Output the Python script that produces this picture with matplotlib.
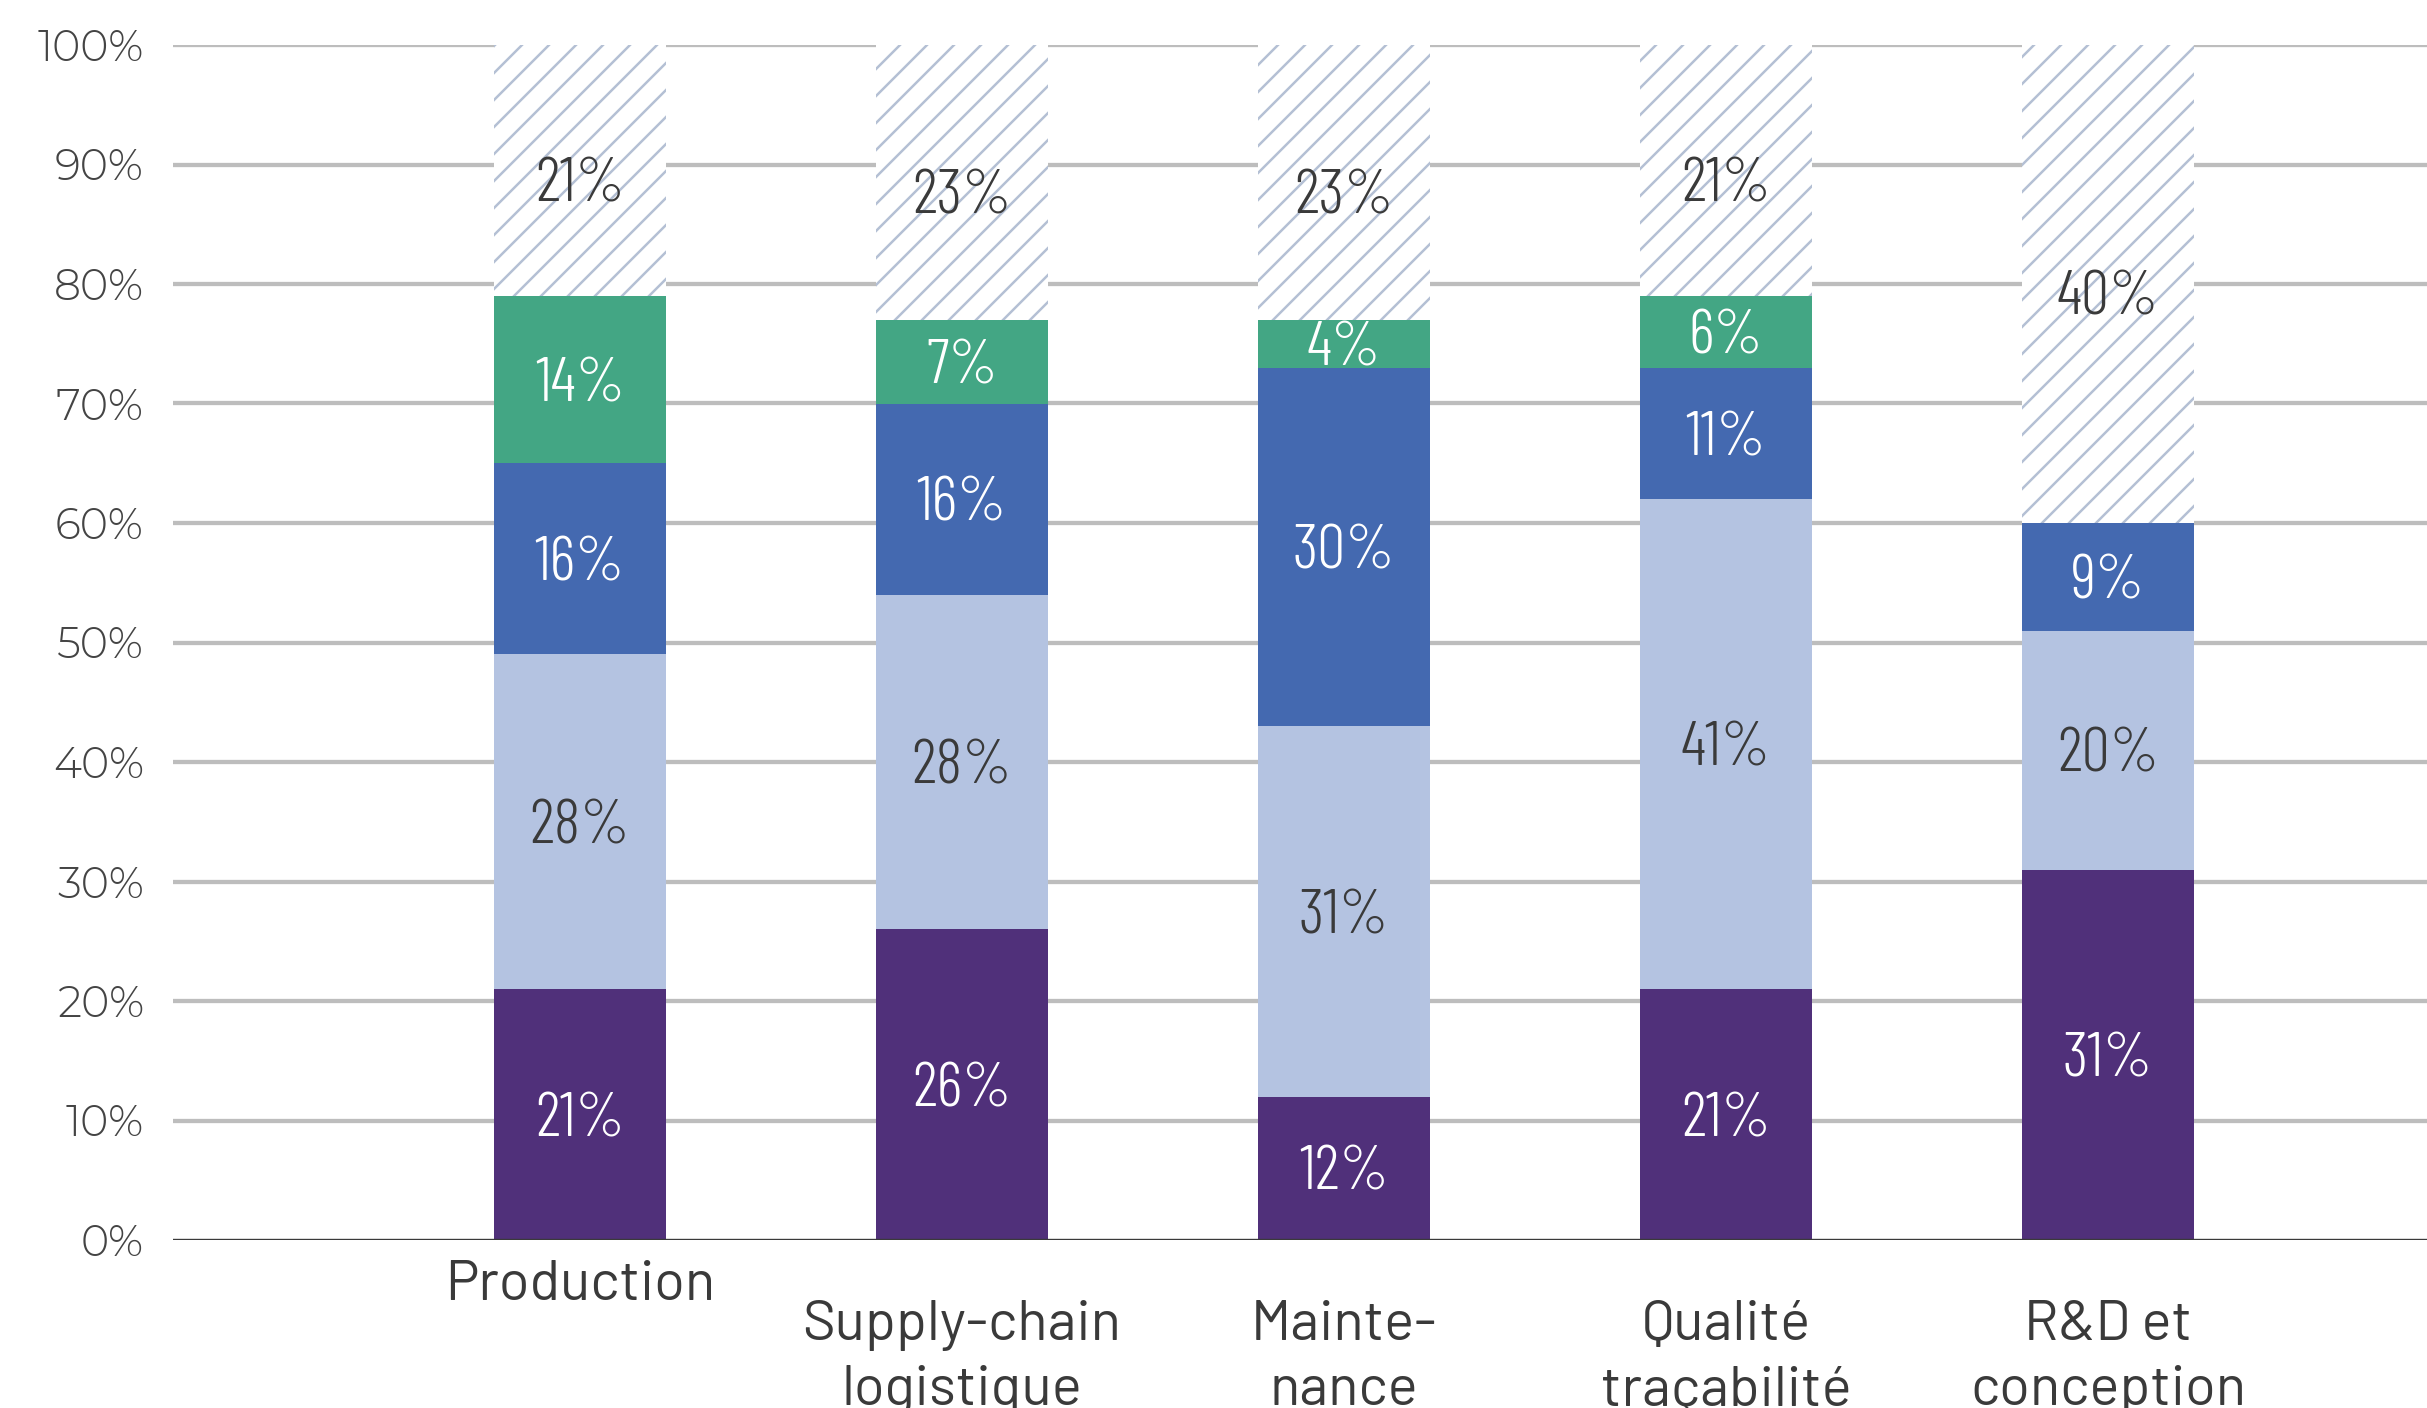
import matplotlib.pyplot as plt
import numpy as np

categories = ['Production', 'Supply-chain\nlogistique', 'Mainte-\nnance',
              'Qualité\ntraçabilité', 'R&D et\nconception']
purple = [21, 26, 12, 21, 31]
light = [28, 28, 31, 41, 20]
blue = [16, 16, 30, 11, 9]
green = [14, 7, 4, 6, 0]
rest = [21, 23, 23, 21, 40]
yticks = [0, 10, 20, 30, 40, 50, 60, 70, 80, 90, 100]

DPI = 162
fig = plt.figure(figsize=(2427 / DPI, 1408 / DPI), dpi=DPI)
ax = fig.add_axes([173 / 2427, 1 - 1240 / 1408, 1 - 173 / 2427, 1195 / 1408])

plt.rcParams['hatch.linewidth'] = 1.1
txt = '#3a3a3a'
lab_font = ['Barlow Condensed', 'DejaVu Sans']

x = np.arange(len(categories))
w = 0.45
layers = [(purple, '#50307a', 'white'),
          (light, '#b4c3e1', txt),
          (blue, '#4469b0', 'white'),
          (green, '#43a684', 'white')]

bottom = np.zeros(len(categories))
for vals, col, tc in layers:
    vals = np.array(vals, dtype=float)
    ax.bar(x, vals, w, bottom=bottom, color=col, linewidth=0, zorder=3)
    for i, v in enumerate(vals):
        if v > 0:
            ax.annotate('%d%%' % v, (x[i], bottom[i] + v / 2), xytext=(0, -2.5),
                        textcoords='offset points', ha='center', va='center',
                        color=tc, fontsize=28, family=lab_font, fontweight=300, zorder=5)
    bottom = bottom + vals

# remaining share, hatched
ax.bar(x, 100 - bottom, w, bottom=bottom, facecolor='white', edgecolor='#b4c0d4',
       hatch='//', linewidth=0, zorder=3)
for i, v in enumerate(rest):
    ax.annotate('%d%%' % v, (x[i], bottom[i] + (100 - bottom[i]) / 2), xytext=(0, -6.5),
                textcoords='offset points', ha='center', va='center',
                color=txt, fontsize=28, family=lab_font, fontweight=300, zorder=5)

ax.set_xlim(-1.065, 4.835)
ax.set_ylim(0, 100)
ax.set_yticks(yticks)
ax.set_yticklabels(['%d%%' % t for t in yticks], fontsize=19, color='#444444',
                   family='Montserrat Alternates', fontweight=300)
ax.tick_params(axis='y', length=0, pad=13)
ax.set_xticks([])
for t in yticks[1:]:
    ax.axhline(t, color='#bdbdbd', linewidth=1.9, zorder=1)
ax.axhline(0, color='#3a3a3a', linewidth=1.5, zorder=4)
for s in ax.spines.values():
    s.set_visible(False)

# category labels under the bars
for i, c in enumerate(categories):
    yy = -0.038 if '\n' not in c else -0.099
    ax.text(x[i], yy, c, transform=ax.get_xaxis_transform(), ha='center', va='center',
            fontsize=25, color=txt, family='Barlow', fontweight=400, linespacing=1.35,
            clip_on=False)

fig.savefig('out.png', dpi=DPI)
